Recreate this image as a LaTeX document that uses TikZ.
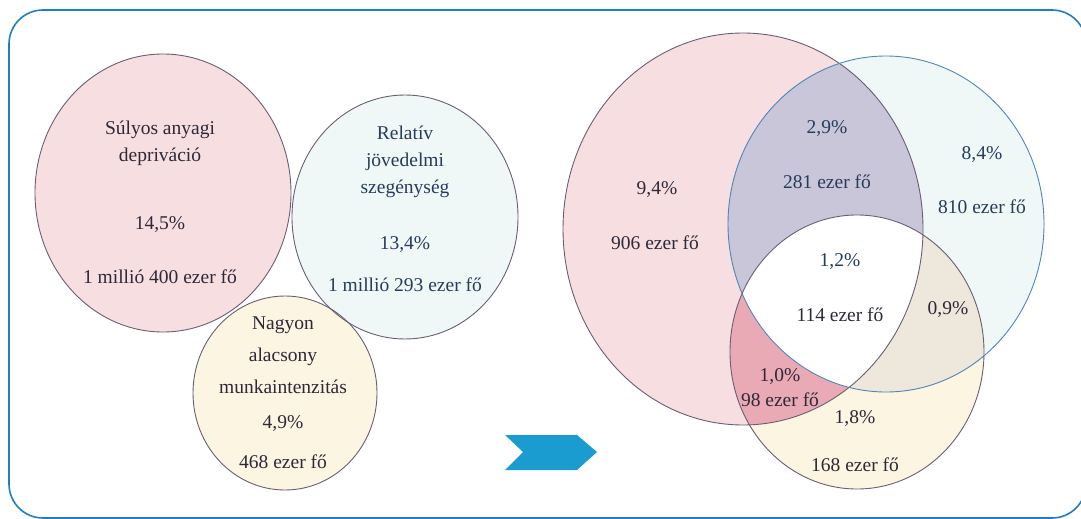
\documentclass[tikz,border=0pt]{standalone}
\usepackage{fontspec}
\setmainfont{Liberation Serif}
\usetikzlibrary{shapes.geometric}
\definecolor{frameblue}{HTML}{1E7FC4}
\definecolor{arrowblue}{HTML}{1A9CD0}
\definecolor{pinkf}{HTML}{F6DEE1}
\definecolor{bluef}{HTML}{EFF7F7}
\definecolor{yellowf}{HTML}{FBF5E2}
\definecolor{purplef}{HTML}{C9C6D9}
\definecolor{redf}{HTML}{E9AAB6}
\definecolor{beigef}{HTML}{EEE7DC}
\definecolor{edge}{HTML}{6A5E72}
\definecolor{edgeblue}{HTML}{4F86B8}
\definecolor{txt}{HTML}{2E2838}
\definecolor{txtb}{HTML}{263C5C}
\tikzset{
  lbl/.style={font=\fontsize{19.5}{22}\selectfont, text=txt, inner sep=0pt, anchor=base},
  lblb/.style={lbl, text=txtb},
  ring/.style={draw=edge, line width=0.9pt},
}
\begin{document}
\begin{tikzpicture}[x=1pt,y=-1pt]
\useasboundingbox (0,0) rectangle (1081,519);
% frame
\draw[frameblue, line width=1.6pt, rounded corners=34pt] (9,10) rectangle (1086,518);

% ---- left: separate circles
\fill[pinkf] (163,193) ellipse [x radius=128, y radius=139];
\fill[bluef] (405,217) ellipse [x radius=113, y radius=122];
\fill[yellowf] (285,393) ellipse [x radius=92, y radius=97];
\draw[ring] (163,193) ellipse [x radius=128, y radius=139];
\draw[ring] (405,217) ellipse [x radius=113, y radius=122];
\draw[ring] (285,393) ellipse [x radius=92, y radius=97];

\node[lbl] (s1) at (160,134) {Súlyos anyagi};
\node[lbl] (s2) at (160,161) {depriváció};
\node[lbl] (s3) at (160,229) {14,5\%};
\node[lbl] (s4) at (160,283) {1 millió 400 ezer fő};

\node[lblb] (r1) at (405,139) {Relatív};
\node[lblb] (r2) at (405,166) {jövedelmi};
\node[lblb] (r3) at (405,193) {szegénység};
\node[lblb] (r4) at (405,249) {13,4\%};
\node[lblb] (r5) at (405,291) {1 millió 293 ezer fő};

\node[lbl] (n1) at (283,329) {Nagyon};
\node[lbl] (n2) at (283,361) {alacsony};
\node[lbl] (n3) at (283,393) {munkaintenzitás};
\node[lbl] (n4) at (283,428) {4,9\%};
\node[lbl] (n5) at (283,468) {468 ezer fő};

% ---- arrow
\fill[arrowblue] (505,435) -- (577,435) -- (597,452) -- (577,470) -- (505,470) -- (523,452) -- cycle;

% ---- right: Venn
\def\P{(743,229) ellipse [x radius=180, y radius=196]}
\def\B{(886,224) ellipse [x radius=158, y radius=168]}
\def\Y{(857,352) ellipse [x radius=127, y radius=137]}
\fill[bluef] \B;
\fill[yellowf] \Y;
\fill[pinkf] \P;
\begin{scope}\clip \P; \fill[purplef] \B; \end{scope}
\begin{scope}\clip \P; \fill[redf] \Y; \end{scope}
\begin{scope}\clip \B; \fill[beigef] \Y; \end{scope}
\begin{scope}\clip \P; \clip \B; \fill[white] \Y; \end{scope}
\draw[ring] \P;
\draw[ring, draw=edgeblue] \B;
\draw[ring] \Y;

\node[lbl] (v1) at (657,194) {9,4\%};
\node[lbl] (v2) at (655,249) {906 ezer fő};
\node[lblb] (v3) at (827,133) {2,9\%};
\node[lblb] (v4) at (827,188) {281 ezer fő};
\node[lblb] (v5) at (982,159) {8,4\%};
\node[lblb] (v6) at (982,213) {810 ezer fő};
\node[lblb] (v7) at (840,266) {1,2\%};
\node[lbl] (v8) at (840,321) {114 ezer fő};
\node[lbl] (v9) at (948,314) {0,9\%};
\node[lbl] (v10) at (780,381) {1,0\%};
\node[lbl] (v11) at (780,406) {98 ezer fő};
\node[lbl] (v12) at (855,423) {1,8\%};
\node[lbl] (v13) at (855,471) {168 ezer fő};
\end{tikzpicture}
\end{document}
